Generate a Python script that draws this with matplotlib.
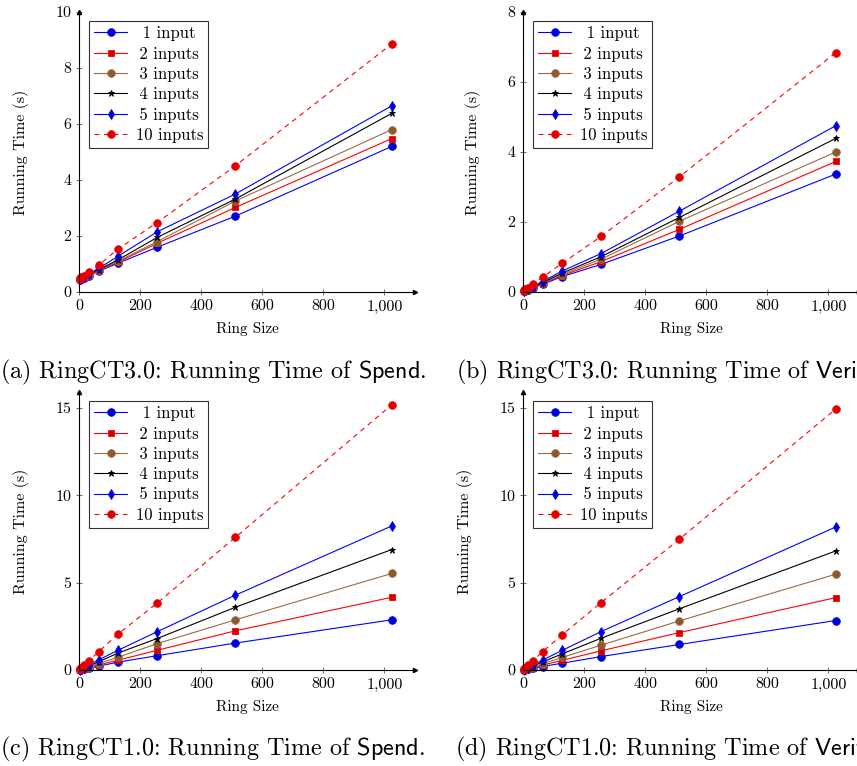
import matplotlib
matplotlib.use("Agg")
from matplotlib import pyplot as plt

plt.rcParams['font.family'] = ['cmr10', 'DejaVu Serif']
plt.rcParams['mathtext.fontset'] = 'cm'
plt.rcParams['axes.formatter.use_mathtext'] = True

# ring sizes on the x axis
ring = [2, 4, 8, 16, 32, 64, 128, 256, 512, 1024]
# legend texts, padded with thin spaces so they sit centred like pgfplots
labels = ['\u2009\u20091 input', '\u20092 inputs', '\u20093 inputs',
          '\u20094 inputs', '\u20095 inputs', '10 inputs']

# (a) RingCT3.0 Spend
a_1 = [0.44, 0.45, 0.47, 0.50, 0.58, 0.74, 1.03, 1.60, 2.71, 5.20]
a_2 = [0.45, 0.46, 0.48, 0.52, 0.60, 0.76, 1.07, 1.74, 3.02, 5.48]
a_3 = [0.45, 0.46, 0.49, 0.53, 0.61, 0.78, 1.10, 1.80, 3.25, 5.80]
a_4 = [0.46, 0.47, 0.50, 0.54, 0.63, 0.80, 1.15, 1.95, 3.32, 6.38]
a_5 = [0.46, 0.48, 0.51, 0.55, 0.65, 0.84, 1.28, 2.15, 3.50, 6.65]
a_10 = [0.48, 0.50, 0.53, 0.58, 0.71, 0.95, 1.54, 2.48, 4.51, 8.86]

# (b) RingCT3.0 Verify
b_1 = [0.02, 0.03, 0.04, 0.06, 0.11, 0.22, 0.44, 0.79, 1.60, 3.37]
b_2 = [0.02, 0.03, 0.04, 0.07, 0.12, 0.24, 0.47, 0.87, 1.79, 3.73]
b_3 = [0.02, 0.03, 0.05, 0.07, 0.13, 0.25, 0.50, 0.94, 2.02, 4.00]
b_4 = [0.03, 0.04, 0.05, 0.08, 0.14, 0.27, 0.54, 1.01, 2.13, 4.39]
b_5 = [0.03, 0.04, 0.05, 0.08, 0.15, 0.30, 0.60, 1.10, 2.31, 4.75]
b_10 = [0.04, 0.06, 0.08, 0.12, 0.23, 0.42, 0.82, 1.59, 3.29, 6.84]

# (c) RingCT1.0 Spend
c_1 = [0.01, 0.02, 0.03, 0.05, 0.10, 0.22, 0.45, 0.82, 1.54, 2.87]
c_2 = [0.01, 0.02, 0.04, 0.07, 0.14, 0.29, 0.56, 1.13, 2.24, 4.16]
c_3 = [0.02, 0.03, 0.05, 0.09, 0.18, 0.37, 0.73, 1.51, 2.87, 5.52]
c_4 = [0.02, 0.03, 0.06, 0.11, 0.23, 0.47, 0.97, 1.80, 3.59, 6.89]
c_5 = [0.02, 0.04, 0.07, 0.14, 0.28, 0.58, 1.13, 2.19, 4.28, 8.24]
c_10 = [0.04, 0.07, 0.13, 0.26, 0.53, 1.04, 2.06, 3.83, 7.59, 15.17]

# (d) RingCT1.0 Verify
d_1 = [0.01, 0.02, 0.03, 0.05, 0.10, 0.20, 0.39, 0.77, 1.46, 2.83]
d_2 = [0.01, 0.02, 0.04, 0.07, 0.14, 0.28, 0.55, 1.10, 2.14, 4.14]
d_3 = [0.02, 0.03, 0.05, 0.09, 0.18, 0.36, 0.72, 1.42, 2.81, 5.48]
d_4 = [0.02, 0.03, 0.06, 0.11, 0.23, 0.46, 0.92, 1.82, 3.50, 6.81]
d_5 = [0.02, 0.04, 0.07, 0.14, 0.28, 0.57, 1.12, 2.20, 4.20, 8.18]
d_10 = [0.04, 0.07, 0.13, 0.27, 0.54, 1.04, 2.01, 3.86, 7.48, 14.93]

x_ticks = [0, 200, 400, 600, 800, 1000]
x_ticklabels = ['0', '200', '400', '600', '800', '1,000']

# line style per series: color, marker, marker face, linestyle, marker size
styles = [
    ('#0000ff', 'o', '#0000cc', '-', 5.5),
    ('#ff0000', 's', '#cc0000', '-', 5.0),
    ('#9c6b45', 'o', '#8b5a2b', '-', 5.5),
    ('#000000', '*', '#000000', '-', 4.5),
    ('#0000ff', 'd', '#0000cc', '-', 5.0),
    ('#ff0000', 'o', '#dd0000', (0, (4.5, 4)), 5.5),
]

W, H = 857, 766
fig = plt.figure(figsize=(W / 100, H / 100), dpi=100)


def panel(left_px, zero_px, top_px, ymax, yticks, series, caption, cap_x, cap_y):
    ax = fig.add_axes([left_px / W, 1 - zero_px / H,
                       336 / W, (zero_px - top_px) / H])
    for ys, lab, st in zip(series, labels, styles):
        col, mk, fc, ls, ms = st
        ax.plot(ring, ys, color=col, ls=ls, lw=0.8, marker=mk, ms=ms,
                mfc=fc, mec=col, mew=0.6, label=lab, clip_on=False)
    ax.set_xlim(0, 1100)
    ax.set_ylim(0, ymax)
    ax.set_xticks(x_ticks)
    ax.set_xticklabels(x_ticklabels)
    ax.set_yticks(yticks)
    ax.set_yticklabels([str(t) for t in yticks])
    for s in ['top', 'right']:
        ax.spines[s].set_visible(False)
    for s in ['left', 'bottom']:
        ax.spines[s].set_linewidth(0.8)
    ax.tick_params(direction='inout', length=5, width=0.6, color='#555555',
                   labelsize=11.5, pad=3)
    # arrow tips at the axis ends
    ax.plot(1, 0, '>k', ms=3, transform=ax.transAxes, clip_on=False)
    ax.plot(0, 1, '^k', ms=3, transform=ax.transAxes, clip_on=False)
    ax.set_xlabel('Ring Size', fontsize=11, labelpad=6)
    ax.set_ylabel('Running Time (s)', fontsize=11.5, labelpad=19)
    leg = ax.legend(loc='upper left', bbox_to_anchor=(0.03, 0.968),
                    borderaxespad=0, fontsize=12, fancybox=False,
                    edgecolor='#333333', framealpha=1, handlelength=2.0,
                    labelspacing=0.3, borderpad=0.3, handletextpad=0.5)
    leg.get_frame().set_linewidth(0.8)
    fig.text(cap_x / W, 1 - cap_y / H, caption, fontsize=17.4,
             ha='left', va='center')
    return ax


panel(79, 292, 12, 10, [0, 2, 4, 6, 8, 10], [a_1, a_2, a_3, a_4, a_5, a_10],
      r'(a) RingCT3.0: Running Time of $\mathsf{Spend}$.', 0, 372)
panel(523, 292, 12, 8, [0, 2, 4, 6, 8], [b_1, b_2, b_3, b_4, b_5, b_10],
      r'(b) RingCT3.0: Running Time of $\mathsf{Verify}$.', 456, 372)
panel(79, 670, 392, 15.9, [0, 5, 10, 15], [c_1, c_2, c_3, c_4, c_5, c_10],
      r'(c) RingCT1.0: Running Time of $\mathsf{Spend}$.', 0, 749)
panel(523, 670, 392, 15.9, [0, 5, 10, 15], [d_1, d_2, d_3, d_4, d_5, d_10],
      r'(d) RingCT1.0: Running Time of $\mathsf{Verify}$.', 455, 749)

fig.savefig('out.png', dpi=100)
